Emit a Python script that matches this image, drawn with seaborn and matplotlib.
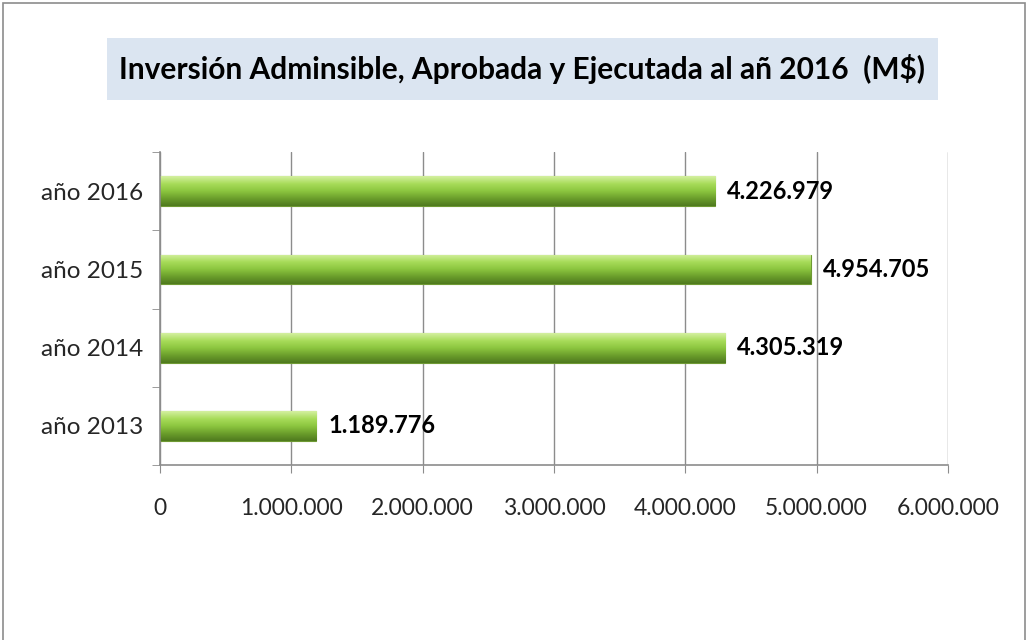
import numpy as np
import pandas as pd
import matplotlib
matplotlib.use("Agg")
import matplotlib.pyplot as plt
import seaborn as sns
from matplotlib.patches import Rectangle
from matplotlib.ticker import FuncFormatter, FixedLocator

# data
years = ["año 2016", "año 2015", "año 2014", "año 2013"]
values = [4226979, 4954705, 4305319, 1189776]
x_ticks = [0, 1000000, 2000000, 3000000, 4000000, 5000000, 6000000]
title = "Inversión Adminsible, Aprobada y Ejecutada al añ 2016  (M$)"

df = pd.DataFrame({"year": years, "value": values})

sns.set_style("white")
plt.rcParams["font.family"] = ["Lato", "DejaVu Sans"]

fig = plt.figure(figsize=(10.28, 6.4), dpi=100)
ax = fig.add_axes([0.1556, 0.2734, 0.7665, 0.489])

sns.barplot(data=df, x="value", y="year", orient="h", color="#8cc63f",
            width=0.38, ax=ax, saturation=1)

# gradient fill on each bar (light on top, dark at the bottom), clipped to the bar
grad = np.linspace(1, 0, 64).reshape(-1, 1)
cmap = matplotlib.colors.LinearSegmentedColormap.from_list(
    "grn", ["#d4f0a0", "#a8dc5a", "#8cc63f", "#6b9e2c", "#4f7a1e"])
for p in ax.patches:
    bx, by = p.get_x(), p.get_y()
    bw, bh = p.get_width(), p.get_height()
    im = ax.imshow(grad, cmap=cmap, aspect="auto", interpolation="bicubic",
                   origin="lower",
                   extent=[bx, bx + bw, by + bh, by], zorder=p.get_zorder() + 0.1)
    im.set_clip_path(p)
    p.set_edgecolor("#6f9a34")
    p.set_linewidth(0.8)

for p, v in zip(ax.patches, values):
    ax.text(p.get_x() + p.get_width() + 90000, p.get_y() + p.get_height() / 2,
            f"{v:,}".replace(",", "."), va="center", ha="left",
            fontsize=17, fontweight="bold", color="black", zorder=5)

ax.set_xlim(0, 6000000)
ax.set_ylim(3.5, -0.5)
ax.xaxis.set_major_locator(FixedLocator(x_ticks))
ax.xaxis.set_major_formatter(FuncFormatter(lambda v, _: f"{int(v):,}".replace(",", ".")))
ax.set_xlabel("")
ax.set_ylabel("")

ax.grid(axis="x", color="#8c8c8c", linewidth=1.0)
ax.set_axisbelow(True)
for s in ["top", "right"]:
    ax.spines[s].set_visible(False)
for s in ["left", "bottom"]:
    ax.spines[s].set_color("#8c8c8c")
    ax.spines[s].set_linewidth(1.2)

ax.tick_params(axis="x", direction="out", length=6, color="#8c8c8c",
               labelsize=16.5, pad=18, bottom=True)
ax.tick_params(axis="y", which="major", length=0, labelsize=17.5, pad=12)
ax.yaxis.set_minor_locator(FixedLocator([-0.5, 0.5, 1.5, 2.5, 3.5]))
ax.tick_params(axis="y", which="minor", direction="out", length=6,
               color="#8c8c8c", left=True)

# title box
fig.patches.append(Rectangle((107 / 1028, 1 - 100 / 640), (938 - 107) / 1028, 62 / 640,
                             transform=fig.transFigure, facecolor="#dbe5f1",
                             edgecolor="none", zorder=0))
fig.text(522 / 1028, 1 - 69 / 640, title, ha="center", va="center",
         fontsize=21.5, fontweight="bold", color="black")

# outer chart frame
fig.patches.append(Rectangle((3 / 1028, -0.05), 1022 / 1028, 1 - 3 / 640 + 0.05,
                             transform=fig.transFigure, facecolor="none",
                             edgecolor="#8c8c8c", linewidth=1.2))

fig.savefig("out.png", dpi=100)
